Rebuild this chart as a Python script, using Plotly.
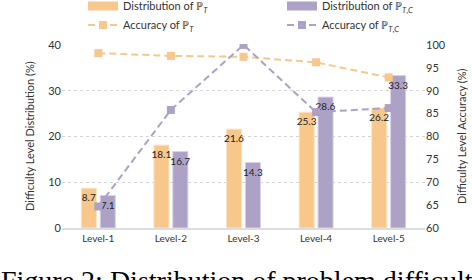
import plotly.graph_objects as go

levels = ["Level-1", "Level-2", "Level-3", "Level-4", "Level-5"]
dist_T = [8.7, 18.1, 21.6, 25.3, 26.2]
dist_TC = [7.1, 16.7, 14.3, 28.6, 33.3]
acc_T = [98.2, 97.6, 97.4, 96.2, 92.9]
acc_TC = [64.7, 85.8, 100.0, 85.3, 86.2]

left_ticks = [0, 10, 20, 30, 40]
right_ticks = [60, 65, 70, 75, 80, 85, 90, 95, 100]

name_dT = "Distribution of ℙ<sub><i>T</i></sub>"
name_dTC = "Distribution of ℙ<sub><i>T</i>,<i>C</i></sub>"
name_aT = "Accuracy of ℙ<sub><i>T</i></sub>"
name_aTC = "Accuracy of ℙ<sub><i>T</i>,<i>C</i></sub>"
caption = "Figure 2: Distribution of problem difficulty levels"

orange = "#F8C78B"
purple = "#ADA2C6"
FONT = "Lato"
TXT = "#333333"

fig = go.Figure()
fig.add_bar(
    x=levels, y=dist_T, name=name_dT, showlegend=False,
    marker=dict(color=orange, line=dict(color="#FCE3C3", width=1)),
    text=[f"{v:.1f}" for v in dist_T], textposition="inside",
    insidetextanchor="end", constraintext="none", textangle=0,
    textfont=dict(size=10, color="#222222", family=FONT),
)
fig.add_bar(
    x=levels, y=dist_TC, name=name_dTC, showlegend=False,
    marker=dict(color=purple, line=dict(color="#D9D2E6", width=1)),
    text=[f"{v:.1f}" for v in dist_TC], textposition="inside",
    insidetextanchor="end", constraintext="none", textangle=0,
    textfont=dict(size=10, color="#222222", family=FONT),
)
fig.add_scatter(
    x=levels, y=acc_T, yaxis="y2", mode="lines+markers",
    name=name_aT, legend="legend", legendgroup="c",
    line=dict(color=orange, width=2, dash="7px,4px"),
    marker=dict(symbol="square", size=8, color=orange),
)
fig.add_scatter(
    x=levels, y=acc_TC, yaxis="y2", mode="lines+markers",
    name=name_aTC, legend="legend2", legendgroup="d",
    line=dict(color=purple, width=2, dash="7px,4px"),
    marker=dict(symbol="square", size=8, color=purple),
)
# legend swatches for the bar series (wide rectangles as in the reference)
fig.add_scatter(
    x=[None], y=[None], mode="lines", name=name_dT,
    legend="legend", legendgroup="a", legendrank=1,
    line=dict(color=orange, width=9),
)
fig.add_scatter(
    x=[None], y=[None], mode="lines", name=name_dTC,
    legend="legend2", legendgroup="b", legendrank=1,
    line=dict(color=purple, width=9),
)

# axis titles as annotations for exact placement
fig.add_annotation(
    text="Difficulty Level Distribution (%)", textangle=-90,
    xref="paper", yref="paper", x=-0.091, y=0.5,
    xanchor="center", yanchor="middle", showarrow=False,
    font=dict(family=FONT, size=11, color=TXT),
)
fig.add_annotation(
    text="Difficulty Level Accuracy (%)", textangle=-90,
    xref="paper", yref="paper", x=1.099, y=0.5,
    xanchor="center", yanchor="middle", showarrow=False,
    font=dict(family=FONT, size=11, color=TXT),
)
# caption: only its upper part falls inside the frame, as in the reference
fig.add_annotation(
    text=caption, xref="paper", yref="paper", x=-0.173, y=-0.190,
    xanchor="left", yanchor="top", showarrow=False,
    font=dict(family="Liberation Serif", size=28, color="#000000"),
)

legend_common = dict(
    orientation="v", yanchor="top", xanchor="left",
    font=dict(size=11, family=FONT, color=TXT),
    bgcolor="rgba(0,0,0,0)", tracegroupgap=0, traceorder="grouped",
)

fig.update_layout(
    template="none",
    width=472, height=280, autosize=False,
    margin=dict(l=62, r=47, t=44, b=52, autoexpand=False),
    paper_bgcolor="white", plot_bgcolor="white",
    font=dict(family=FONT, size=11, color=TXT),
    barmode="group", bargap=0.48, bargroupgap=0.2,
    showlegend=True,
    legend=dict(x=0.058, y=1.285, **legend_common),
    legend2=dict(x=0.606, y=1.285, **legend_common),
    xaxis=dict(
        range=[-0.5, 4.5], showgrid=False, showline=True, linecolor="#DDDDDD",
        linewidth=1.5, ticks="", tickfont=dict(size=10, color=TXT), automargin=False,
        zeroline=False,
    ),
    yaxis=dict(
        range=[0, 40.2], tickvals=left_ticks, showgrid=True, gridcolor="#D5D5D5",
        griddash="dot", gridwidth=1, zeroline=False, showline=False, ticks="",
        tickfont=dict(size=11, color=TXT), automargin=False,
    ),
    yaxis2=dict(
        range=[60, 100.2], tickvals=right_ticks, overlaying="y", side="right",
        showgrid=False, zeroline=False, showline=False, ticks="",
        tickfont=dict(size=11, color=TXT), automargin=False,
    ),
)

clip_js = (
    "document.documentElement.style.cssText='margin:0;padding:0;overflow:hidden;height:280px;width:472px';"
    "document.body.style.cssText='margin:0;padding:0;overflow:hidden;height:280px;width:472px';"
    "var gds=document.getElementsByClassName('plotly-graph-div');"
    "for(var i=0;i<gds.length;i++)"
    "{gds[i].style.overflow='hidden';gds[i].style.height='280px';gds[i].style.width='472px';}"
)

fig.write_html(
    "out.html",
    config={"displayModeBar": False},
    post_script=clip_js,
)
